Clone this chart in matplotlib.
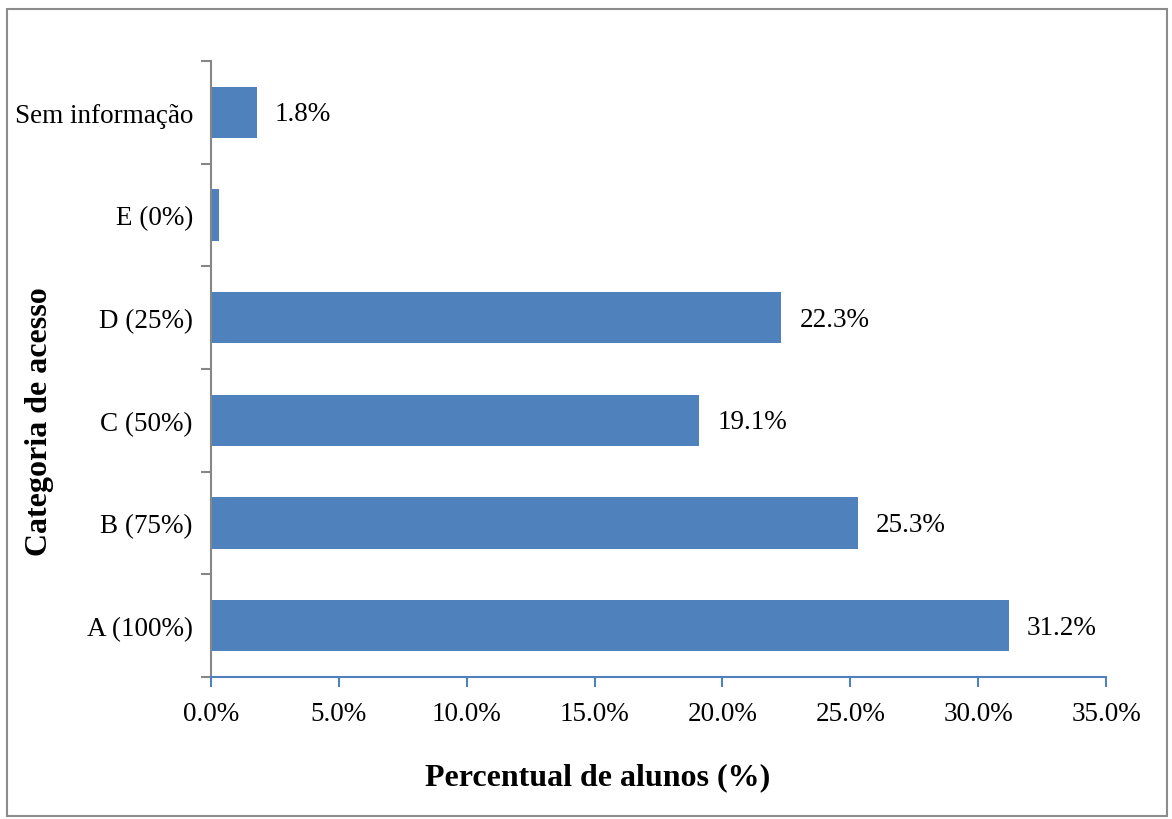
import matplotlib.pyplot as plt
from matplotlib.patches import Rectangle
from matplotlib.ticker import FuncFormatter

categorias = ['A (100%)', 'B (75%)', 'C (50%)', 'D (25%)', 'E (0%)', 'Sem informação']
percentuais = [31.2, 25.3, 19.1, 22.3, 0.3, 1.8]
rotulos = ['31.2%', '25.3%', '19.1%', '22.3%', '', '1.8%']

plt.rcParams['font.family'] = ['Liberation Serif', 'DejaVu Serif']

azul = '#4F81BD'
cinza = '#868686'

fig = plt.figure(figsize=(11.72, 8.2), dpi=100)
ax = fig.add_axes([0.180, 0.1732, 0.7637, 0.7512])

pos = list(range(len(categorias)))
ax.barh(pos, percentuais, height=0.5, color=azul)

for p, v, r in zip(pos, percentuais, rotulos):
    if r:
        ax.annotate(r, (v, p), xytext=(13, -1), textcoords='offset points',
                    va='center', ha='left', fontsize=19.5)

ax.set_xlim(0, 35)
ax.set_ylim(-0.5, len(categorias) - 0.5)

ax.set_xticks([0, 5, 10, 15, 20, 25, 30, 35])
ax.xaxis.set_major_formatter(FuncFormatter(lambda x, _: f'{x:.1f}%'))

# category ticks sit on the boundaries, labels in the middle
ax.set_yticks([i - 0.5 for i in range(len(categorias) + 1)])
ax.set_yticklabels([])
ax.set_yticks(pos, minor=True)
ax.set_yticklabels(categorias, minor=True)
ax.tick_params(axis='y', which='minor', length=0, pad=13, labelsize=19.5)
ax.tick_params(axis='y', which='major', length=7, width=1.5, color=cinza, direction='out')
ax.tick_params(axis='x', length=7, width=1.5, color=azul, direction='out', pad=10, labelsize=19.5)

for s in ['top', 'right']:
    ax.spines[s].set_visible(False)
ax.spines['left'].set_color(cinza)
ax.spines['left'].set_linewidth(1.5)
ax.spines['bottom'].set_color(azul)
ax.spines['bottom'].set_linewidth(1.5)

fig.text(598 / 1172, 1 - 778 / 820, 'Percentual de alunos (%)', fontsize=23,
         fontweight='bold', ha='center', va='center')
fig.text(40 / 1172, 1 - 422 / 820, 'Categoria de acesso', fontsize=23,
         fontweight='bold', ha='center', va='center', rotation=90)

fig.patches.append(Rectangle((0.006, 0.004), 0.99, 0.984, transform=fig.transFigure,
                             fill=False, edgecolor='#8c8c8c', linewidth=1.5))

fig.savefig('out.png', dpi=100)
